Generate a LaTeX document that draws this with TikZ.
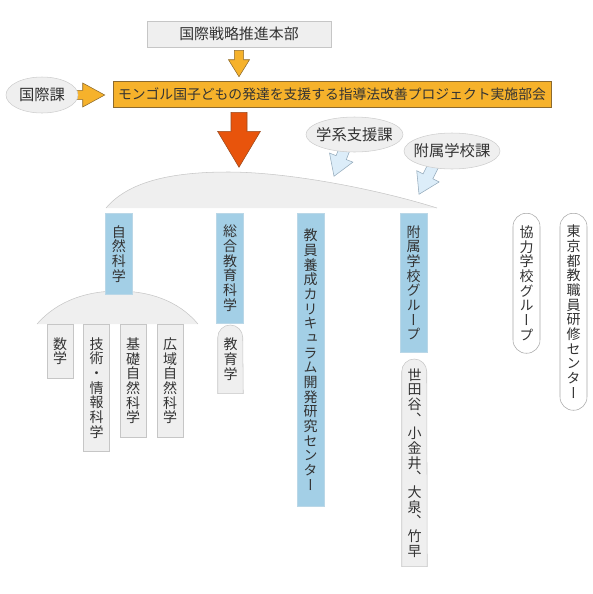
\documentclass[tikz,border=0pt]{standalone}
\usepackage{fontspec}
\setmainfont{Noto Sans CJK JP}
\newfontfamily\tatefont[RawFeature=+vert]{Noto Sans CJK JP}
\usetikzlibrary{calc, shapes.geometric, backgrounds}

\definecolor{ink}{HTML}{333333}
\definecolor{boxgray}{HTML}{EFEFEF}
\definecolor{linegray}{HTML}{C6C6C6}
\definecolor{ovalline}{HTML}{CDCDCD}
\definecolor{pillline}{HTML}{A8A8A8}
\definecolor{amber}{HTML}{F6B22B}
\definecolor{amberline}{HTML}{8C6A2E}
\definecolor{redorange}{HTML}{E8540C}
\definecolor{redline}{HTML}{9A4A1E}
\definecolor{paleblue}{HTML}{DCEDF9}
\definecolor{paleline}{HTML}{93A9BA}
\definecolor{unitblue}{HTML}{A3CFE6}
\definecolor{unitline}{HTML}{BAD7E7}

% vertical text, one glyph per line
\newcommand\tate[1]{{\tatefont\fontsize{10.5pt}{11pt}\selectfont\vbox{\tatestep#1\relax}}}
\def\tatestep#1{\ifx\relax#1\else\hbox to 1em{\hss#1\hss}\expandafter\tatestep\fi}

% block arrow: style, tail, tip, shaft half width, head half width, head length
\newcommand\blockarrow[6]{%
  \coordinate (ba-t) at (#2);
  \coordinate (ba-p) at (#3);
  \coordinate (ba-b) at ($(ba-p)!#6!(ba-t)$);
  \draw[#1] ($(ba-t)!#4!90:(ba-p)$) -- ($(ba-b)!#4!90:(ba-p)$) -- ($(ba-b)!#5!90:(ba-p)$)
    -- (ba-p) -- ($(ba-b)!#5!-90:(ba-p)$) -- ($(ba-b)!#4!-90:(ba-p)$) -- ($(ba-t)!#4!-90:(ba-p)$) -- cycle;
}

\tikzset{
  every node/.style={text=ink},
  hqbox/.style={draw=linegray, fill=boxgray, minimum width=138pt, minimum height=19.5pt, inner sep=0pt, font=\fontsize{11.2pt}{13pt}\selectfont},
  projbox/.style={draw=amberline, fill=amber, minimum width=328.5pt, minimum height=19.5pt, inner sep=0pt, font=\fontsize{10.35pt}{12pt}\selectfont},
  office/.style={ellipse, draw=ovalline, fill=boxgray, inner sep=0pt, font=\fontsize{11.5pt}{13pt}\selectfont},
  unit/.style={draw=unitline, fill=unitblue, anchor=north, minimum width=20.25pt, inner sep=0pt},
  subunit/.style={draw=linegray, fill=boxgray, anchor=north, minimum width=19.5pt, inner sep=0pt},
  capped/.style={anchor=north, minimum width=18.75pt, inner sep=0pt},
  partner/.style={draw=pillline, fill=white, anchor=north, minimum width=20.25pt, inner sep=0pt, rounded corners=10pt},
  dome/.style={fill=boxgray},
  domeline/.style={draw=linegray},
  subfill/.style={draw=linegray, fill=boxgray},
  amberarrow/.style={draw=amberline, fill=amber},
  redarrow/.style={draw=redline, fill=redorange},
  palearrow/.style={draw=paleline, fill=paleblue},
}

\begin{document}
\begin{tikzpicture}[x=0.75pt, y=-0.75pt]
\useasboundingbox (0,0) rectangle (593,594);
% head office and project
\node[hqbox] (hq) at (239,34) {国際戦略推進本部};
\node[projbox] (proj) at (332,94) {モンゴル国子どもの発達を支援する指導法改善プロジェクト実施部会};
\node[office, minimum width=54pt, minimum height=27pt] (kokusai) at (42,95) {\makebox[0pt]{国際課}};
\node[office, minimum width=72.75pt, minimum height=26.25pt] (gakkei) at (354.5,134.5) {\makebox[0pt]{学系支援課}};
\node[office, minimum width=72pt, minimum height=27pt] (fuzokuka) at (452,151) {\makebox[0pt]{附属学校課}};
% units, left to right
\node[unit, minimum height=60.75pt] (shizen) at (119,213) {\tate{自然科学}};
\node[unit, minimum height=82.5pt] (sougou) at (230,213) {\tate{総合教育科学}};
\node[unit, minimum height=219.75pt] (kyoin) at (310.5,213) {\tate{教員養成カリキュラム開発研究センター}};
\node[unit, minimum height=104.25pt] (fuzoku) at (413.5,213) {\tate{附属学校グループ}};
\node[partner, minimum height=105pt] (kyoryoku) at (526.5,213) {\tate{協力学校グループ}};
\node[partner, minimum height=147.75pt] (tokyo) at (573.5,213) {\tate{東京都教職員研修センター}};
% sub units
\node[subunit, minimum height=40.5pt] (suugaku) at (60,324) {\tate{数学}};
\node[subunit, minimum height=95.25pt] (gijutsu) at (96.5,324) {\tate{技術・情報科学}};
\node[subunit, minimum height=84.75pt] (kiso) at (133,324) {\tate{基礎自然科学}};
\node[subunit, minimum height=84.75pt] (kouiki) at (170,324) {\tate{広域自然科学}};
\node[capped, minimum height=51pt] (kyouiku) at (230.5,325) {\tate{教育学}};
\node[capped, minimum height=155.25pt] (schools) at (414.5,359) {\tate{世田谷、小金井、大泉、竹早}};

\begin{scope}[on background layer]
\fill[dome] (106,208) .. controls (128,182) and (170,172) .. (228,172) .. controls (290,172) and (380,190) .. (437,208) -- cycle;
\draw[domeline] (106,208) .. controls (128,182) and (170,172) .. (228,172) .. controls (290,172) and (380,190) .. (437,208);
\fill[dome] (37,324) .. controls (58,300) and (88,291) .. (118,291) .. controls (148,291) and (178,300) .. (198,324) -- cycle;
\draw[domeline] (37,324) .. controls (58,300) and (88,291) .. (118,291) .. controls (148,291) and (178,300) .. (198,324);
\draw[subfill] (kyouiku.south west) -- ([yshift=-9.375pt]kyouiku.north west) arc[start angle=180, end angle=0, radius=9.375pt] -- (kyouiku.south east) -- cycle;
\draw[subfill] (schools.south west) -- ([yshift=-9.375pt]schools.north west) arc[start angle=180, end angle=0, radius=9.375pt] -- (schools.south east) -- cycle;
% arrows
\blockarrow{amberarrow}{$(hq.south)+(0,3)$}{$(hq.south |- proj.north)+(0,-4)$}{3.4pt}{7.9pt}{12.75pt}
\blockarrow{amberarrow}{$(kokusai.east)+(-5,0)$}{$(kokusai.east -| proj.west)+(-8,0)$}{3.4pt}{9pt}{16.5pt}
\blockarrow{redarrow}{$(hq.south |- proj.south)+(0,5)$}{$(hq.south |- proj.south)+(0,60)$}{6pt}{16.1pt}{27pt}
\blockarrow{palearrow}{$(gakkei.south)+(-8.5,-7)$}{$(gakkei.south)+(-20.5,24)$}{4.1pt}{9.4pt}{15pt}
\blockarrow{palearrow}{$(fuzokuka.south)+(-15,-11)$}{$(fuzokuka.south)+(-33,25)$}{4.1pt}{9.4pt}{15pt}
\end{scope}
\end{tikzpicture}
\end{document}
